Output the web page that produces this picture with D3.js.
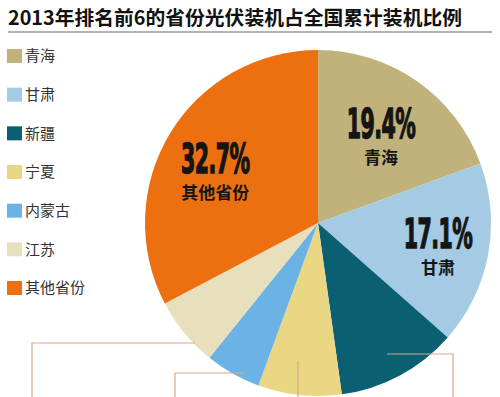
<!DOCTYPE html>
<html>
<head>
<meta charset="utf-8">
<script src="https://cdn.jsdelivr.net/npm/d3@7"></script>
<style>
  body { margin: 0; background: #fff; }
  svg { display: block; }
</style>
</head>
<body>
<svg id="chart" width="500" height="397"></svg>
<script>
// data
const provinces = ["青海", "甘肃", "新疆", "宁夏", "内蒙古", "江苏", "其他省份"];
const shares = [19.4, 17.1, 11.3, 7.8, 5.2, 6.5, 32.7];
const colors = ["#c1b27c", "#a5cae3", "#0a5f73", "#ead784", "#6ab3e4", "#e8dfbd", "#ec7010"];
// only three slices carry a label inside
const labelled = ["青海", "甘肃", "其他省份"];

const width = 500, height = 397;
const svg = d3.select("#chart");

// title + rule
svg.append("text")
  .attr("x", 8).attr("y", 25)
  .style("font-family", "'Noto Sans CJK SC', sans-serif")
  .style("font-size", "19.8px")
  .style("font-weight", "bold")
  .style("fill", "#111")
  .text("2013年排名前6的省份光伏装机占全国累计装机比例");

svg.append("line")
  .attr("x1", 8).attr("x2", 492)
  .attr("y1", 32).attr("y2", 32)
  .style("stroke", "#9a9a9a")
  .style("stroke-width", 1.5);

// legend
const legend = svg.append("g");
const rowY = d3.scalePoint().domain(provinces).range([56, 288]);

const item = legend.selectAll("g")
  .data(provinces)
  .enter().append("g")
  .attr("transform", d => `translate(7,${rowY(d)})`);

item.append("rect")
  .attr("x", 0).attr("y", -7)
  .attr("width", 15).attr("height", 14)
  .style("fill", (d, i) => colors[i]);

item.append("text")
  .attr("x", 18).attr("dy", "0.36em")
  .style("font-family", "'Noto Sans CJK SC', sans-serif")
  .style("font-size", "15px")
  .style("fill", "#333")
  .text(d => d);

// pie
const cx = 318, cy = 223, r = 173;
const pie = d3.pie().sort(null).value(d => d.v);
const arcs = pie(provinces.map((p, i) => ({ name: p, v: shares[i], c: colors[i] })));
const arc = d3.arc().innerRadius(0).outerRadius(r);

const g = svg.append("g").attr("transform", `translate(${cx},${cy})`);

g.selectAll("path")
  .data(arcs)
  .enter().append("path")
  .attr("d", arc)
  .style("fill", d => d.data.c);

// label placement: radius along the slice's mid angle, plus a small drop
const labelPos = {
  "青海": { r: 110, dy: 5 },
  "甘肃": { r: 122, dy: 3 },
  "其他省份": { r: 120, dy: 12 }
};

const lab = g.selectAll("g.lab")
  .data(arcs.filter(d => labelled.includes(d.data.name)))
  .enter().append("g")
  .attr("class", "lab")
  .attr("transform", d => {
    const p = labelPos[d.data.name];
    const c = d3.arc().innerRadius(p.r).outerRadius(p.r).centroid(d);
    return `translate(${c[0]},${c[1] + p.dy})`;
  });

// tall condensed numerals
lab.append("text")
  .attr("text-anchor", "middle")
  .attr("transform", "scale(0.54,1.08)")
  .style("font-family", "'DejaVu Sans', sans-serif")
  .style("font-size", "38px")
  .style("font-weight", "bold")
  .style("letter-spacing", "-1px")
  .style("fill", "#151515")
  .style("stroke", "#151515")
  .style("stroke-width", 1.4)
  .text(d => d.data.v.toFixed(1) + "%");

lab.append("text")
  .attr("text-anchor", "middle")
  .attr("y", 26)
  .style("font-family", "'Noto Sans CJK SC', sans-serif")
  .style("font-size", "17px")
  .style("font-weight", "bold")
  .style("fill", "#151515")
  .text(d => d.data.name);

// leader lines at the bottom (cut off in the original)
const leader = d3.line();
const leaders = [
  [[195, 343], [32, 343], [32, 397]],
  [[245, 373], [175, 373], [175, 397]],
  [[298, 361], [298, 397]],
  [[387, 354], [453, 354], [453, 397]]
];
svg.selectAll("path.leader")
  .data(leaders)
  .enter().append("path")
  .attr("class", "leader")
  .attr("d", leader)
  .style("fill", "none")
  .style("stroke", "#d9a888")
  .style("stroke-width", 1.2);
</script>
</body>
</html>
